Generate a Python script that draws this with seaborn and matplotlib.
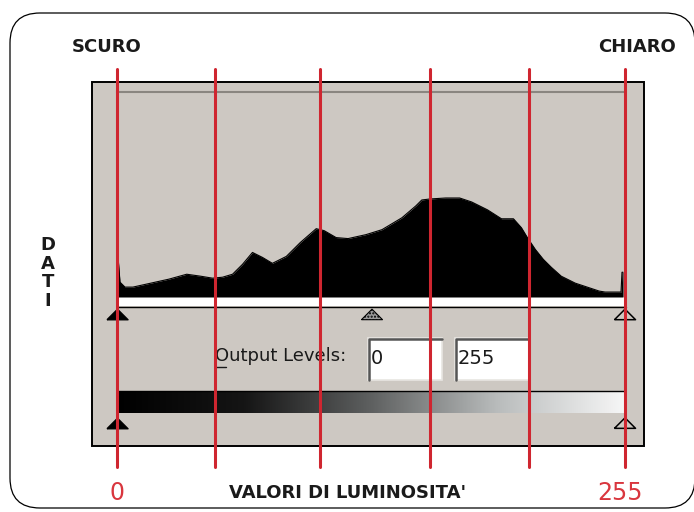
import numpy as np
import pandas as pd
import matplotlib.pyplot as plt
import seaborn as sns
from matplotlib.patches import Rectangle, FancyBboxPatch
from matplotlib.colors import LinearSegmentedColormap

# histogram (level 0-255, height relative to the peak)
levels = [0, 0.5, 1.5, 4, 8, 17, 26, 35, 42, 48, 53, 58, 63, 68, 73, 78, 85, 92,
          100, 104, 110, 116, 125, 133, 143, 150, 153, 157, 165, 172, 178, 186,
          193, 199, 203, 206, 210, 214, 218, 223, 230, 236, 242, 245, 252, 253,
          253.5, 254]
heights = [0.41, 0.41, 0.15, 0.10, 0.10, 0.14, 0.18, 0.23, 0.21, 0.19, 0.20, 0.23,
           0.33, 0.45, 0.40, 0.34, 0.41, 0.55, 0.69, 0.67, 0.60, 0.59, 0.63, 0.68,
           0.80, 0.92, 0.98, 0.99, 1.00, 1.00, 0.96, 0.88, 0.79, 0.79, 0.70, 0.60,
           0.48, 0.38, 0.30, 0.21, 0.14, 0.10, 0.06, 0.05, 0.05, 0.05, 0.25, 0.25]

# red guide lines (luminosity values)
guide_levels = [0, 49, 102, 157, 207, 255]
# slider positions: input black / gamma / white, output black / white
input_sliders = [0, 128, 255]
output_sliders = [0, 255]
output_values = ["0", "255"]
end_labels = ["0", "255"]

df = pd.DataFrame({"level": levels, "count": heights})

sns.set_theme(style="white")
plt.rcParams['font.family'] = ['DejaVu Sans']

fig = plt.figure(figsize=(6.94, 5.12), dpi=100)

# background in pixel coordinates
bg = fig.add_axes([0, 0, 1, 1], zorder=0)
bg.set_xlim(0, 694)
bg.set_ylim(512, 0)
bg.axis('off')

bg.add_patch(FancyBboxPatch((10, 13), 685, 495, boxstyle="round,pad=0,rounding_size=30",
                            facecolor='white', edgecolor='black', lw=0.9))
bg.add_patch(Rectangle((92, 82), 552, 364, facecolor='#cdc8c2', edgecolor='black', lw=1.4))

# white strip under the histogram
bg.add_patch(Rectangle((117, 297), 508, 9, facecolor='white', edgecolor='none', zorder=2))
bg.plot([117, 626], [307, 307], color='black', lw=1, zorder=3)

# output gradient bar
grad = LinearSegmentedColormap.from_list('g', ['#000000', '#151515', '#5e6060', '#b9bcbc', '#f6f6f6'])
bg.imshow(np.linspace(0, 1, 256)[None, :], cmap=grad, extent=[117, 625, 413, 391],
          aspect='auto', zorder=2)
bg.plot([117, 625], [391, 391], color='black', lw=1, zorder=3)
bg.set_xlim(0, 694)
bg.set_ylim(512, 0)

# output level boxes
for x0, txt in zip([368, 455], output_values):
    bg.add_patch(Rectangle((x0, 338), 74, 42, facecolor='white', edgecolor='#e8e6e2', lw=1.2, zorder=2))
    bg.plot([x0 + 1, x0 + 1, x0 + 74], [380, 339, 339], color='#555555', lw=1.8, zorder=3)
    bg.text(x0 + 3, 358, txt, ha='left', va='center', fontsize=14, color='#1a1a1a', zorder=4)

bg.text(215, 356, "Output Levels:", ha='left', va='center', fontsize=13, color='#1a1a1a', zorder=4)
bg.plot([215, 226], [367, 367], color='#1a1a1a', lw=1, zorder=4)

# labels
bg.text(72, 47, "SCURO", ha='left', va='center', fontsize=13, fontweight='bold', color='#1a1a1a')
bg.text(676, 47, "CHIARO", ha='right', va='center', fontsize=13, fontweight='bold', color='#1a1a1a')
bg.text(48, 273, "D\nA\nT\nI", ha='center', va='center', fontsize=13, fontweight='bold',
        color='#1a1a1a', linespacing=1.05)
bg.text(348, 493, "VALORI DI LUMINOSITA'", ha='center', va='center', fontsize=13,
        fontweight='bold', color='#1a1a1a')

# histogram axes: x from 117 to 625 px, y from 297 (base) to 92 (top) px
ax = fig.add_axes([117 / 694, (512 - 297) / 512, 508 / 694, 205 / 512], zorder=1)
ax.patch.set_alpha(0)
ax.set_xlim(0, 255)
ax.set_ylim(0, 205 / 99)
ax.fill_between(df["level"], df["count"], 0, color='black', lw=0)
sns.lineplot(data=df, x="level", y="count", ax=ax, color='black', lw=0.8, sort=False)
ax.set_xticks([])
ax.set_yticks([])
ax.set_xlabel("")
ax.set_ylabel("")
for side in ['left', 'right', 'bottom']:
    ax.spines[side].set_visible(False)
ax.spines['top'].set_color('#8a8680')
ax.spines['top'].set_linewidth(1.5)

trans = ax.get_xaxis_transform()

# slider triangles
tri = [(-1, -0.5), (1, -0.5), (0, 0.5), (-1, -0.5)]
ax.scatter([input_sliders[0]], [-0.085], marker=tri, s=230, color='black', transform=trans, clip_on=False, zorder=3)
ax.scatter([input_sliders[1]], [-0.085], marker=tri, s=230, facecolor='#9a9a9a', edgecolor='black',
           hatch='.....', lw=0.8, transform=trans, clip_on=False, zorder=3)
ax.scatter([input_sliders[2]], [-0.085], marker=tri, s=230, facecolor='none', edgecolor='black',
           lw=1.1, transform=trans, clip_on=False, zorder=3)
ax.scatter([output_sliders[0]], [-0.615], marker=tri, s=230, color='black', transform=trans, clip_on=False, zorder=3)
ax.scatter([output_sliders[1]], [-0.615], marker=tri, s=230, facecolor='none', edgecolor='black',
           lw=1.1, transform=trans, clip_on=False, zorder=3)

# red guide lines
for g in guide_levels:
    ax.plot([g, g], [-0.829, 1.112], color='#cf2630', lw=2.2, transform=trans, clip_on=False, zorder=5)

ax.text(guide_levels[0], -0.956, end_labels[0], ha='center', va='center', fontsize=17,
        color='#d9363e', transform=trans)
ax.text(252.5, -0.956, end_labels[1], ha='center', va='center', fontsize=17,
        color='#d9363e', transform=trans)

fig.savefig("out.png", dpi=100)
